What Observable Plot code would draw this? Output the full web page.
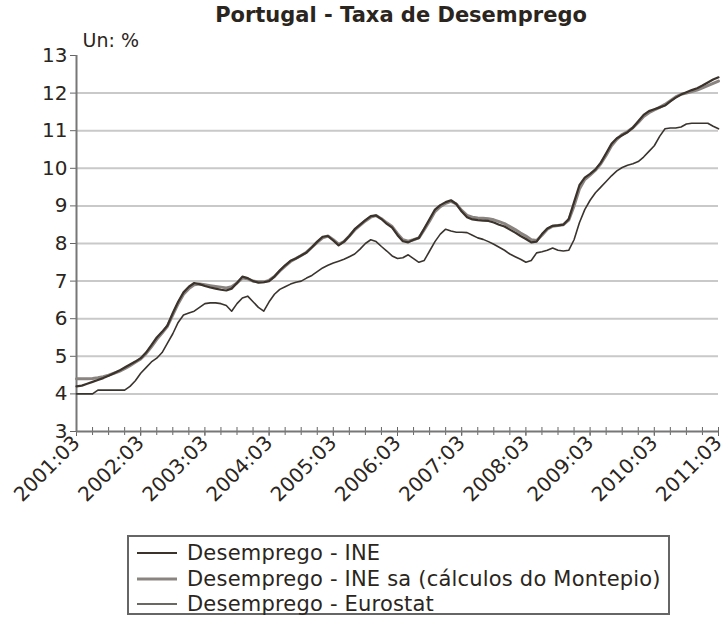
<!DOCTYPE html>
<html>
<head>
<meta charset="utf-8">
<script src="https://cdn.jsdelivr.net/npm/d3@7"></script>
<script src="https://cdn.jsdelivr.net/npm/@observablehq/plot@0.6"></script>
<style>
  html, body { margin: 0; padding: 0; background: #fff; }
  body { width: 723px; height: 621px; position: relative; overflow: hidden; font-family: "DejaVu Sans", sans-serif; color: #2b2520; }
  #title { position: absolute; left: 76px; width: 650px; top: 3px; text-align: center; font-weight: bold; font-size: 21px; letter-spacing: 0px; }
  #chart { position: absolute; left: 0; top: 30px; }
  #legend { position: absolute; left: 127px; top: 535px; width: 539px; height: 76px; border: 2px solid #666; box-sizing: content-box; }
  .row { position: absolute; left: 8px; height: 26px; display: flex; align-items: center; font-size: 21px; letter-spacing: 0.2px; white-space: nowrap; }
  .swatch { width: 40px; margin-right: 10px; }
</style>
</head>
<body>
<div id="title">Portugal - Taxa de Desemprego</div>
<div id="chart"></div>
<div id="legend"></div>
<script>
// Series names
const seriesNames = ["Desemprego - INE", "Desemprego - INE sa (cálculos do Montepio)", "Desemprego - Eurostat"];
// X tick labels (one per year, at March)
const yearLabels = ["2001:03","2002:03","2003:03","2004:03","2005:03","2006:03","2007:03","2008:03","2009:03","2010:03","2011:03"];
// Y ticks
const yTicks = [3,4,5,6,7,8,9,10,11,12,13];
// INE, monthly points (2001:03 ... 2011:03), %
const ine = [4.2,4.22,4.27,4.32,4.37,4.42,4.48,4.55,4.62,4.7,4.78,4.86,4.95,
  5.1,5.3,5.5,5.65,5.82,6.15,6.45,6.7,6.85,6.95,6.92,
  6.87,6.83,6.8,6.77,6.75,6.8,6.95,7.12,7.08,7.0,6.96,6.97,
  7.0,7.12,7.28,7.42,7.54,7.6,7.68,7.76,7.9,8.05,8.18,8.2,
  8.08,7.95,8.05,8.2,8.38,8.5,8.62,8.73,8.75,8.65,8.52,8.42,
  8.22,8.06,8.03,8.1,8.15,8.4,8.65,8.9,9.02,9.1,9.15,9.05,
  8.85,8.7,8.64,8.62,8.61,8.6,8.56,8.5,8.45,8.37,8.29,8.2,
  8.12,8.03,8.05,8.25,8.4,8.47,8.48,8.5,8.65,9.1,9.55,9.75,
  9.85,9.97,10.15,10.4,10.65,10.8,10.88,10.96,11.08,11.25,11.42,11.52,
  11.57,11.62,11.67,11.78,11.88,11.96,12.02,12.08,12.13,12.2,12.28,12.36,12.42];
// INE seasonally adjusted (Montepio), monthly points, %
const ineSa = [4.4,4.4,4.4,4.41,4.43,4.46,4.5,4.55,4.6,4.67,4.75,4.84,4.93,
  5.07,5.25,5.45,5.62,5.8,6.1,6.4,6.65,6.8,6.9,6.92,
  6.9,6.88,6.86,6.84,6.82,6.85,6.95,7.08,7.06,7.0,6.98,6.98,
  7.02,7.12,7.27,7.4,7.52,7.6,7.68,7.77,7.9,8.03,8.15,8.2,
  8.1,7.98,8.05,8.2,8.36,8.48,8.6,8.7,8.74,8.66,8.55,8.45,
  8.26,8.1,8.06,8.1,8.15,8.37,8.6,8.85,8.98,9.07,9.12,9.05,
  8.88,8.75,8.7,8.68,8.67,8.66,8.63,8.58,8.53,8.45,8.37,8.28,
  8.2,8.1,8.08,8.22,8.38,8.46,8.48,8.5,8.62,9.0,9.45,9.7,
  9.82,9.95,10.12,10.35,10.6,10.77,10.9,10.98,11.08,11.22,11.38,11.48,
  11.55,11.62,11.7,11.8,11.9,11.97,12.0,12.04,12.08,12.14,12.2,12.26,12.32];
// Eurostat, monthly (2001:03 ... 2011:03), %
const eurostat = [4.0,4.0,4.0,4.0,4.1,4.1,4.1,4.1,4.1,4.1,4.2,4.35,4.55,4.7,4.85,4.95,5.1,5.35,5.6,5.9,6.1,6.15,6.2,6.3,6.4,6.42,6.42,6.4,6.35,6.2,6.4,6.55,6.6,6.45,6.3,6.2,6.45,6.65,6.78,6.85,6.92,6.97,7.0,7.08,7.15,7.25,7.35,7.42,7.48,7.53,7.58,7.65,7.72,7.85,8.0,8.1,8.05,7.92,7.8,7.67,7.6,7.62,7.7,7.6,7.5,7.55,7.8,8.05,8.25,8.38,8.33,8.3,8.3,8.29,8.22,8.15,8.11,8.05,7.98,7.9,7.82,7.72,7.65,7.58,7.5,7.55,7.75,7.78,7.82,7.88,7.82,7.8,7.82,8.1,8.55,8.9,9.15,9.35,9.5,9.65,9.8,9.93,10.02,10.08,10.12,10.18,10.3,10.45,10.6,10.85,11.05,11.07,11.07,11.1,11.18,11.2,11.2,11.2,11.2,11.12,11.05];
const colors = ["#3a322b", "#8a8480", "#3a342e"];
const widths = [2.2, 3, 1.6];

// month index from 2001:03
const ineData = ine.map((v, i) => ({m: i, v}));
const ineSaData = ineSa.map((v, i) => ({m: i, v}));
const euroData = eurostat.map((v, i) => ({m: i, v}));
const quarterTicks = d3.range(0, 121, 3);
const yearTicks = yearLabels.map((_, i) => i * 12);

const chart = Plot.plot({
  width: 723,
  height: 500,
  marginLeft: 76,
  marginRight: 5,
  marginTop: 25,
  marginBottom: 99,
  x: {type: "linear", domain: [0, 120]},
  y: {domain: [3, 13]},
  style: {fontFamily: "DejaVu Sans", fontSize: "20px", color: "#2b2520", background: "transparent", overflow: "visible"},
  marks: [
    Plot.gridY(yTicks.filter(t => t > 3 && t < 13), {stroke: "#c9c9c9", strokeOpacity: 1, strokeWidth: 2}),
    Plot.axisY(yTicks, {tickSize: 6, tickPadding: 3, label: null, stroke: "#666", tickFormat: d => String(d)}),
    Plot.axisX(quarterTicks, {tickSize: 8, dy: -4, stroke: "#666", tickFormat: () => "", label: null}),
    Plot.axisX(yearTicks, {tickRotate: -45, tickSize: 5, tickPadding: 3, stroke: "#666", tickFormat: d => yearLabels[d / 12], label: null}),
    Plot.ruleX([0], {stroke: "#777", strokeWidth: 2}),
    Plot.ruleY([3], {stroke: "#777", strokeWidth: 2}),
    Plot.line(euroData, {x: "m", y: "v", stroke: colors[2], strokeWidth: widths[2]}),
    Plot.line(ineSaData, {x: "m", y: "v", stroke: colors[1], strokeWidth: widths[1]}),
    Plot.line(ineData, {x: "m", y: "v", stroke: colors[0], strokeWidth: widths[0]}),
    Plot.text(["Un: %"], {frameAnchor: "top-left", dx: 6, dy: -9, text: d => d, textAnchor: "start", lineAnchor: "bottom", fontSize: 19, fill: "#2b2520"})
  ]
});
document.getElementById("chart").appendChild(chart);

const legend = document.getElementById("legend");
seriesNames.forEach((name, i) => {
  const row = document.createElement("div");
  row.className = "row";
  row.style.top = (3 + i * 25.5) + "px";
  row.innerHTML = `<svg class="swatch" width="40" height="6"><line x1="0" x2="40" y1="3" y2="3" stroke="${colors[i]}" stroke-width="${widths[i]}"/></svg><span>${name}</span>`;
  legend.appendChild(row);
});
</script>
</body>
</html>
